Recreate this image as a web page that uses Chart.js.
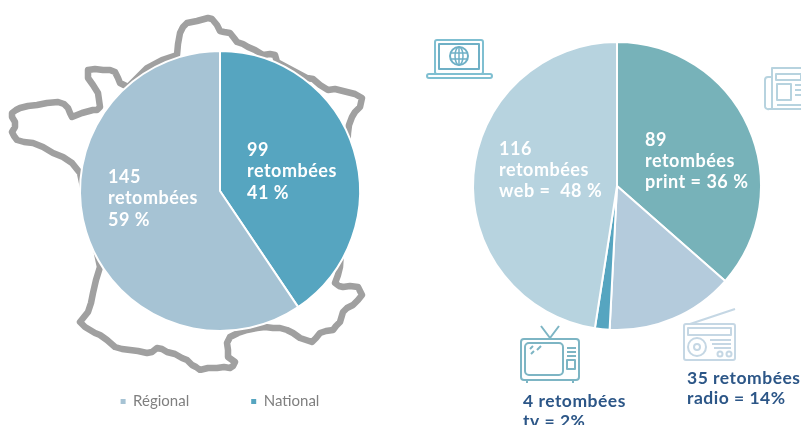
<!DOCTYPE html>
<html>
<head>
<meta charset="utf-8">
<script src="https://cdn.jsdelivr.net/npm/chart.js@4"></script>
<style>
   html, body { margin: 0; padding: 0; background: #fff; overflow: hidden; }
   body { position: relative; width: 801px; height: 425px; }
   svg { position: absolute; left: 0; top: 0; filter: blur(0.5px); }
   canvas { position: absolute; top: 0; }
   #regionChart { left: 0; }
   #mediaChart { left: 436px; }
</style>
</head>
<body>

<!-- decoration behind / around the pies -->
<svg width="801" height="373" viewBox="0 0 801 373" fill="none">
   <polyline stroke="#a0a0a0" stroke-width="6.5" stroke-linejoin="round" stroke-linecap="round" points="
      208,18 212,19 217,25 220,31 224,32 230,33 234,38 237,42 243,44 248,47 255,50 263,55 270,54 275,55 277,62 307,78 313,79 320,85 328,90 335,89 347,92 355,94 362,98 360,107 355,112 352,117 349,125 348,133
      340,267 338,275 335,283 339,286 343,287 350,286 358,287 362,295 358,300 353,305 347,308 343,312 340,322 336,326 333,330 326,331 320,333 316,338 312,342 306,340 300,338 293,333 287,330 280,328 273,328 265,327 257,328
      247,330 238,333 230,337 227,343 228,350 228,357 235,362 233,366 230,368 224,367 217,368 208,368 200,370 196,367 192,365 187,360 182,358 175,354 167,352 162,349 157,348 152,352 147,353 138,351 130,350 122,349 115,347 107,340 100,335 95,333 90,330 85,327 80,322 84,317 88,312 91,303 93,293 96,280 100,267
      80,173 76,168 72,163 63,157 53,153 43,147 33,143 24,142 17,140 14,136 12,132 15,127 15,122 12,117 12,113 16,110 20,108 28,106 37,105 47,103 58,102 64,104 68,108 70,113 72,117 82,113 93,110 97,110 100,107 99,100 98,93 93,85 88,78 88,74 88,70 95,69 103,70 110,70 115,72 118,78 120,83 128,87
      147,68 162,60 177,55 178,44 180,33 183,27 187,23 197,21 208,18"/>
</svg>
<svg width="801" height="425" viewBox="0 0 801 425" fill="none" stroke-linejoin="round">
   <!-- laptop -->
   <g stroke="#7fbfd1" stroke-width="2">
      <rect x="435" y="40" width="48" height="34" rx="2"/>
      <rect x="439" y="44" width="40" height="25" stroke="#6fb0c6"/>
      <rect x="427" y="74" width="65" height="4" rx="2"/>
      <circle cx="459" cy="56" r="9" stroke="#6fb0c6"/>
      <ellipse cx="459" cy="56" rx="4" ry="9" stroke="#6fb0c6" stroke-width="1.5"/>
      <path d="M450 53h18M450 59h18M459 47v18" stroke="#6fb0c6" stroke-width="1.5"/>
   </g>
   <!-- newspaper -->
   <g stroke="#b7d3df" stroke-width="2">
      <path d="M801 68H772v41h29M772 77h-4a3 3 0 0 0-3 3v26a3 3 0 0 0 4 3h3"/>
      <path d="M776 74h25v6h-25zM777 84h14v16h-14zM795 85h6M795 90h6M795 95h6M777 105h24"/>
   </g>
   <!-- tv -->
   <g stroke="#7db5c4" stroke-width="2">
      <path d="M541 326l9 12 9-12"/>
      <rect x="521" y="339" width="58" height="41" rx="3"/>
      <rect x="525" y="343" width="38" height="32" rx="4"/>
      <path d="M567 348h9M567 352h9M567 356h9"/>
      <rect x="567" y="360" width="8" height="9"/>
      <path d="M527 381v2M573 381v2M531 354l3-3M537 350l4-4M530 349l3-3"/>
   </g>
   <!-- radio -->
   <g stroke="#c5d7e4" stroke-width="2">
      <path d="M690 324l45-15"/>
      <rect x="684" y="324" width="51" height="36" rx="2"/>
      <rect x="688" y="328" width="43" height="7"/>
      <circle cx="697" cy="347" r="9"/>
      <circle cx="697" cy="347" r="3"/>
      <path d="M710 340h21M712 344h19M714 348h17"/>
      <circle cx="720" cy="354" r="2.5"/><circle cx="729" cy="354" r="2.5"/>
   </g>
</svg>

<canvas id="regionChart" width="440" height="425"></canvas>
<canvas id="mediaChart" width="365" height="425"></canvas>

<script>
   const regionLabels = ['National', 'Régional'];
   const regionValues = [99, 145];
   const regionColors = ['#56a5c0', '#a6c3d4'];
   const regionText = [
      ['99', 'retombées', '41 %'],
      ['145', 'retombées', '59 %']
   ];

   const mediaLabels = ['print', 'radio', 'tv', 'web'];
   const mediaValues = [89, 35, 4, 116];
   const mediaColors = ['#77b2b9', '#b4cbdc', '#56a5c0', '#b7d3df'];
   const mediaText = [
      ['89', 'retombées', 'print = 36 %'],
      ['35 retombées', 'radio = 14%'],
      ['4 retombées', 'tv = 2%'],
      ['116', 'retombées', 'web =  48 %']
   ];

   // canvas position of first baseline of each label
   const regionTextPos = [[247, 150], [108, 177]];
   const mediaTextPos = [[209, 146], [251, 384], [87, 407], [63, 155]];
   const mediaTextColors = ['#fff', '#2c5687', '#2c5687', '#fff'];

   const sliceText = {
      id: 'sliceText',
      afterDraw(chart, args, opts) {
         const ctx = chart.ctx;
         ctx.save();
         opts.text.forEach((lines, i) => {
            const outside = opts.colors && opts.colors[i] !== '#fff';
            ctx.font = outside ? 'bold 17.5px Lato' : 'bold 18px Lato';
            ctx.letterSpacing = '0.5px';
            ctx.fillStyle = opts.colors ? opts.colors[i] : '#fff';
            lines.forEach((line, n) => {
               ctx.fillText(line, opts.pos[i][0], opts.pos[i][1] + n * opts.lineHeight[i]);
            });
         });
         ctx.restore();
      }
   };

   Chart.defaults.animation = false;
   Chart.defaults.responsive = false;

   new Chart(document.getElementById('regionChart'), {
      type: 'pie',
      data: {
         labels: regionLabels,
         datasets: [{
            data: regionValues,
            backgroundColor: regionColors,
            borderColor: '#fff',
            borderWidth: 2,
            radius: 140
         }]
      },
      options: {
         layout: { padding: { top: 50, bottom: 6 } },
         plugins: {
            tooltip: { enabled: false },
            legend: {
               position: 'bottom',
               reverse: true,
               labels: {
                  boxWidth: 5,
                  boxHeight: 5,
                  padding: 62,
                  color: '#7f7f7f',
                  font: { family: 'Lato', size: 15 },
                  // no white edge on the legend squares
                  generateLabels: (chart) => Chart.overrides.pie.plugins.legend.labels.generateLabels(chart)
                     .map(item => ({ ...item, lineWidth: 0 }))
               }
            },
            sliceText: {
               text: regionText,
               pos: regionTextPos,
               lineHeight: [21.5, 21.5]
            }
         }
      },
      plugins: [sliceText]
   });

   new Chart(document.getElementById('mediaChart'), {
      type: 'pie',
      data: {
         labels: mediaLabels,
         datasets: [{
            data: mediaValues,
            backgroundColor: mediaColors,
            borderColor: '#fff',
            borderWidth: 2,
            radius: 144
         }]
      },
      options: {
         layout: { padding: { top: 0, bottom: 53, right: 3 } },
         plugins: {
            tooltip: { enabled: false },
            legend: { display: false },
            sliceText: {
               text: mediaText,
               colors: mediaTextColors,
               pos: mediaTextPos,
               lineHeight: [21, 20, 20, 21]
            }
         }
      },
      plugins: [sliceText]
   });
</script>
</body>
</html>
